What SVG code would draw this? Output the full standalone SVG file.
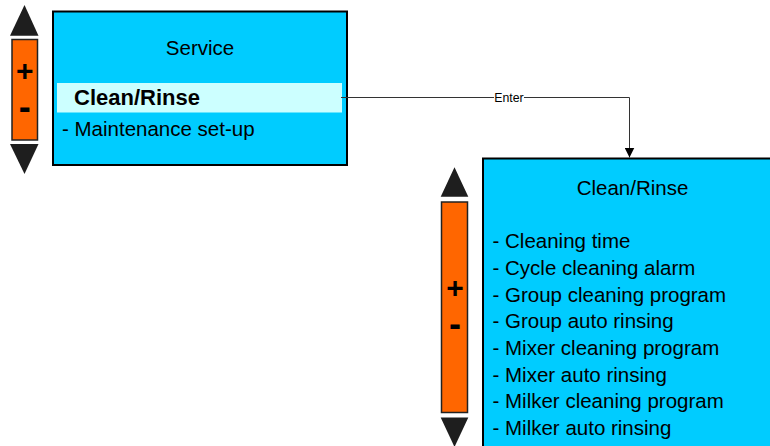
<svg xmlns="http://www.w3.org/2000/svg" width="770" height="446" viewBox="0 0 770 446">
<style>
.box{fill:#00CCFF;stroke:#000;stroke-width:2}
.hl{fill:#CCFFFF}
.bar{fill:#FF6600;stroke:#222;stroke-width:1.5}
.tri{fill:#1E1E1E}
.t{font-family:"Liberation Sans",Arial,sans-serif;font-size:20.5px;fill:#000}
.b{font-family:"Liberation Sans",Arial,sans-serif;font-size:22px;font-weight:bold;fill:#000}
.pm{font-family:"Liberation Sans",Arial,sans-serif;font-weight:bold;fill:#000;text-anchor:middle}
.lbl{font-family:"Liberation Sans",Arial,sans-serif;font-size:12.3px;fill:#000;text-anchor:middle}
.conn{fill:none;stroke:#333;stroke-width:1}
</style>
<defs>
<marker id="arr" viewBox="0 0 10 10" refX="10" refY="5" markerWidth="10" markerHeight="10" markerUnits="userSpaceOnUse" orient="auto">
<path d="M0,0 L10,5 L0,10 Z" fill="#000"/>
</marker>
</defs>
<g id="scroll-left">
<polygon class="tri" points="24.5,5 10,35.7 38.5,35.7"/>
<rect class="bar" x="12" y="39.5" width="25.5" height="100.5"/>
<polygon class="tri" points="10,144 38.5,144 24.5,174"/>
<text class="pm" x="24.8" y="80.5" font-size="30">+</text>
<text class="pm" x="24.8" y="118.7" font-size="36">-</text>
</g>
<g id="service">
<rect class="box" x="53" y="11.5" width="294" height="153.5"/>
<rect class="hl" x="57" y="83" width="285" height="29.5"/>
<text class="t" x="200" y="55" text-anchor="middle">Service</text>
<text class="b" x="74" y="105">Clean/Rinse</text>
<text class="t" x="62" y="136">- Maintenance set-up</text>
</g>
<g id="scroll-right">
<polygon class="tri" points="454.5,167.3 440.7,196.7 468.3,196.7"/>
<rect class="bar" x="441.5" y="202" width="26" height="210.5"/>
<polygon class="tri" points="440.7,417.5 468.3,417.5 454.5,447"/>
<text class="pm" x="455" y="297.8" font-size="30">+</text>
<text class="pm" x="455" y="336.4" font-size="36">-</text>
</g>
<g id="clean-rinse">
<rect class="box" x="483" y="158.5" width="300" height="300"/>
<text class="t" x="632.5" y="195" text-anchor="middle">Clean/Rinse</text>
<text class="t" x="492.5" y="248.3">- Cleaning time</text>
<text class="t" x="492.5" y="275">- Cycle cleaning alarm</text>
<text class="t" x="492.5" y="301.7">- Group cleaning program</text>
<text class="t" x="492.5" y="328.3">- Group auto rinsing</text>
<text class="t" x="492.5" y="355">- Mixer cleaning program</text>
<text class="t" x="492.5" y="381.7">- Mixer auto rinsing</text>
<text class="t" x="492.5" y="408.3">- Milker cleaning program</text>
<text class="t" x="492.5" y="435">- Milker auto rinsing</text>
</g>
<g id="connectors">
<path class="conn" d="M341,97.5 H629.5 V157.5" marker-end="url(#arr)"/>
<rect x="494" y="90" width="30" height="15" fill="#fff"/>
<text class="lbl" x="509" y="101.7">Enter</text>
</g>
</svg>
